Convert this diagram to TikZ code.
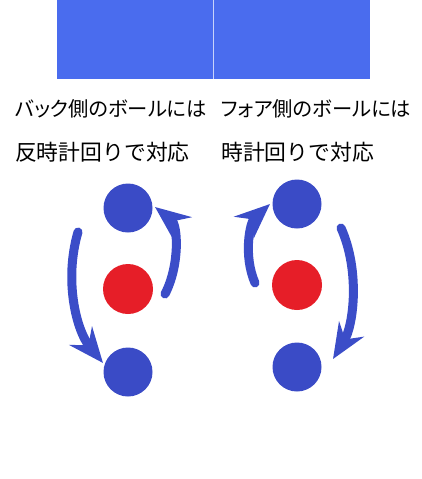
\documentclass[tikz,border=0pt]{standalone}
\usepackage{fontspec}
\usetikzlibrary{arrows.meta}
\newfontfamily\jpfont[RawFeature=+palt]{Noto Sans CJK JP}
\newfontfamily\jpfontfull{Noto Sans CJK JP}
\definecolor{boardblue}{HTML}{4A6CEE}
\definecolor{ballblue}{HTML}{3A4BC6}
\definecolor{ballred}{HTML}{E61E28}
\definecolor{arrowblue}{HTML}{3B4DC8}
\tikzset{
  lblone/.style={anchor=west, inner sep=0pt, font=\jpfont\fontsize{20.3pt}{24pt}\selectfont, text=black},
  lbltwo/.style={anchor=west, inner sep=0pt, font=\jpfontfull\fontsize{21.8pt}{24pt}\selectfont, text=black},
  blueball/.style={circle, fill=ballblue, minimum size=49pt, inner sep=0pt},
  redball/.style={circle, fill=ballred, minimum size=50pt, inner sep=0pt},
  curvearrow/.style={draw=arrowblue, line width=9pt, line cap=round,
    -{Stealth[length=35pt,width=29pt,inset=12pt,fill=arrowblue]}}
}
\begin{document}
\begin{tikzpicture}[x=1pt,y=-1pt]
\useasboundingbox (0,0) rectangle (422,479);
% table
\fill[boardblue] (57,0) rectangle (370,79);
\draw[white!70!boardblue, line width=1pt] (213,0) -- (213,79);
% labels
\node[lblone] (l1) at (15,109) {バック側のボールには};
\node[lbltwo] (l2) at (15,152) {反時計回りで対応};
\node[lblone] (r1) at (221,109) {フォア側のボールには};
\node[lbltwo] (r2) at (221,152) {時計回りで対応};
% left balls
\node[blueball] (lt) at (128,208) {};
\node[redball] (lc) at (128,289) {};
\node[blueball] (lb) at (128,372) {};
% right balls
\node[blueball] (rt) at (297,204) {};
\node[redball] (rc) at (297,285) {};
\node[blueball] (rb) at (297,367) {};
% arrow endpoints
\coordinate (a1s) at (78,232);
\coordinate (a1e) at (103,363);
\coordinate (a2s) at (165,294);
\coordinate (a2e) at (155,207);
\coordinate (a3s) at (255,283);
\coordinate (a3e) at (270,204);
\coordinate (a4s) at (341,228);
\coordinate (a4e) at (333,359);
\draw[curvearrow] (a1s) .. controls (64,280) and (76,330) .. (a1e);
\draw[curvearrow] (a2s) .. controls (180,265) and (178,225) .. (a2e);
\draw[curvearrow] (a3s) .. controls (243,255) and (250,222) .. (a3e);
\draw[curvearrow] (a4s) .. controls (360,270) and (354,325) .. (a4e);
\end{tikzpicture}
\end{document}
